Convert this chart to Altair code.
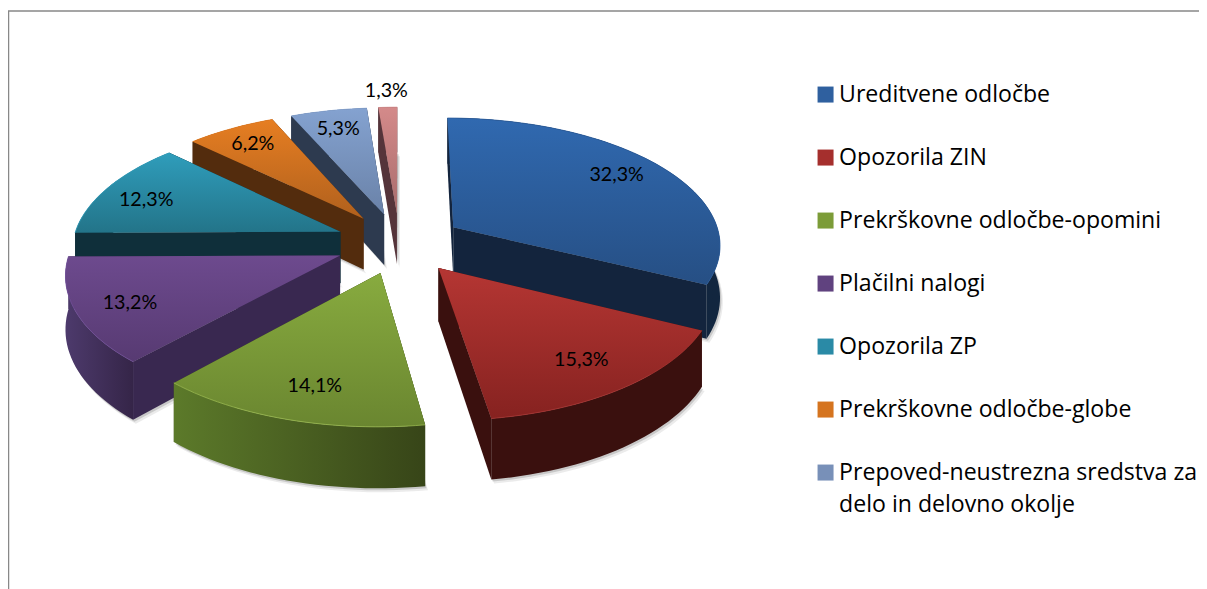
import math
import altair as alt
import pandas as pd

names = ["Ureditvene odločbe", "Opozorila ZIN", "Prekrškovne odločbe-opomini", "Plačilni nalogi",
         "Opozorila ZP", "Prekrškovne odločbe-globe",
         "Prepoved-neustrezna sredstva za delo in delovno okolje", "Ostalo"]
shares = [32.3, 15.3, 14.1, 13.2, 12.3, 6.2, 5.3, 1.3]
legend_colors = ["#2f609f", "#a52f2d", "#7c9c38", "#60427f", "#2a8aa6", "#d5741f", "#7890b8", "#c98080"]
top_hi = ["#3069b0", "#b53633", "#88ab3f", "#6d4a8e", "#2f9dbb", "#e67e22", "#84a2d0", "#d48a8a"]
top_lo = ["#264f84", "#862220", "#6a8630", "#573a72", "#237489", "#b0601d", "#6a82a8", "#a86c6c"]
wall_side = ["#13243d", "#3a100e", "#37441a", "#392850", "#0f2f3a", "#532c0d", "#2d3a4f", "#55343a"]
rim_lo = ["#13243d", "#3a100e", "#5c7a2a", "#4d3a6c", "#0f2f3a", "#532c0d", "#2d3a4f", "#55343a"]
rim_hi = ["#12263f", "#3a100e", "#374518", "#352548", "#0f2f3a", "#532c0d", "#2d3a4f", "#55343a"]
rim_edge = ["#2b5c9a", "#a83532", "#9aba50", "#72509a", "#38a5c2", "#e67e22", "#84a2d0", "#d48a8a"]
label_r = [0.80, 0.79, 0.79, 0.81, 0.81, 0.82, 0.81, 1.18]
label_da = [-2, 0, -1.5, -1.5, -2.5, 0, 0, 0]
paint_order = [7, 6, 5, 0, 4, 3, 2, 1]

W, H = 1191, 581
CX, CY, AX, BY, PERSP, EXPLODE, THICK = 391.5, 235, 268, 126.5, 0.125, 0.24, 52


def proj(xw, zw, h=0.0):
    s = 1 / (1 + PERSP * zw)
    return [CX + AX * xw * s, CY - BY * zw * s + h * s]


def point(mid, ang, r, h=0.0):
    return proj(EXPLODE * math.sin(math.radians(mid)) + r * math.sin(math.radians(ang)),
                EXPLODE * math.cos(math.radians(mid)) + r * math.cos(math.radians(ang)), h)


def depth(mid, ang, r):
    return EXPLODE * math.cos(math.radians(mid)) + r * math.cos(math.radians(ang))


def feature(ring, name):
    return {"type": "Feature", "properties": {"name": name},
            "geometry": {"type": "Polygon", "coordinates": [ring + [ring[0]]]}}


starts = []
acc = 0.0
for v in shares:
    starts.append(acc)
    acc += v * 3.6

PJ = dict(type="identity")
layers = []

# frame keeps the identity projection at one unit per pixel
frame_f = feature([[0, 0], [W, 0], [W, H], [0, H]], "frame")
layers.append(alt.Chart(alt.Data(values=[frame_f])).mark_geoshape(fill="#ffffff", stroke="transparent", strokeWidth=0).project(**PJ))
line_f = {"type": "Feature", "properties": {},
          "geometry": {"type": "LineString", "coordinates": [[0.4, H], [0.4, 3], [W, 3]]}}
layers.append(alt.Chart(alt.Data(values=[line_f])).mark_geoshape(filled=False, stroke="#888888", strokeWidth=1.7).project(**PJ))

# legend-bearing base layer
tops = []
for i, n in enumerate(names):
    a, b = starts[i], starts[i] + shares[i] * 3.6
    mid = (a + b) / 2
    steps = max(4, int(shares[i] * 2))
    ring = [point(mid, 0, 0)] + [point(mid, a + (b - a) * k / steps, 1) for k in range(steps + 1)]
    tops.append(feature(ring, n))
layers.append(
    alt.Chart(alt.Data(values=tops)).mark_geoshape(stroke="transparent", strokeWidth=0).encode(
        color=alt.Color("properties.name:N",
                        scale=alt.Scale(domain=names, range=legend_colors),
                        legend=alt.Legend(title=None, orient="none", legendX=806, legendY=75,
                                          values=names[:7], symbolType="square", symbolSize=256,
                                          symbolStrokeWidth=0, symbolOpacity=1, labelFont="Open Sans",
                                          labelFontSize=23.1, labelColor="#000000", labelLimit=400,
                                          labelOffset=2, rowPadding=39, padding=0,
                                          labelExpr="datum.label == 'Prepoved-neustrezna sredstva za delo in delovno okolje' ? ['Prepoved-neustrezna sredstva za', 'delo in delovno okolje'] : datum.label"))
    ).project(**PJ))


def grad(c0, c1, vertical=True):
    return alt.Gradient(gradient="linear",
                        stops=[alt.GradientStop(color=c0, offset=0), alt.GradientStop(color=c1, offset=1)],
                        x1=0, y1=0, x2=0 if vertical else 1, y2=1 if vertical else 0)


for i in paint_order:
    a, b = starts[i], starts[i] + shares[i] * 3.6
    mid = (a + b) / 2
    steps = max(4, int(shares[i] * 2))
    angs = [a + (b - a) * k / steps for k in range(steps + 1)]
    # soft drop shadow under the slice
    base = [point(mid, 0, 0, THICK)] + [point(mid, t, 1, THICK) for t in angs]
    for off, op in ((2, 0.28), (4, 0.14)):
        ring = [[px + off * 0.7, py + off] for px, py in base]
        layers.append(alt.Chart(alt.Data(values=[feature(ring, names[i])])).mark_geoshape(
            fill="#707070", fillOpacity=op, stroke="transparent", strokeWidth=0).project(**PJ))
    walls = []
    for edge in (a, b):
        ring = [point(mid, 0, 0), point(mid, edge, 1), point(mid, edge, 1, THICK), point(mid, 0, 0, THICK)]
        walls.append((depth(mid, edge, 0.5), ring, wall_side[i]))
    rim = [point(mid, t, 1) for t in angs] + [point(mid, t, 1, THICK) for t in reversed(angs)]
    walls.append((depth(mid, mid, 1.0), rim, None))
    for _, ring, col in sorted(walls, key=lambda w: -w[0]):
        fill = grad(rim_lo[i], rim_hi[i], False) if col is None else col
        layers.append(alt.Chart(alt.Data(values=[feature(ring, names[i])])).mark_geoshape(
            fill=fill, stroke="transparent", strokeWidth=0).project(**PJ))
    layers.append(alt.Chart(alt.Data(values=[tops[i]])).mark_geoshape(
        fill=grad(top_hi[i], top_lo[i]), stroke="transparent", strokeWidth=0).project(**PJ))
    edge_f = {"type": "Feature", "properties": {},
              "geometry": {"type": "LineString", "coordinates": [point(mid, t, 1) for t in angs]}}
    layers.append(alt.Chart(alt.Data(values=[edge_f])).mark_geoshape(
        filled=False, stroke=rim_edge[i], strokeWidth=0.8).project(**PJ))

# data labels
lab = []
for i, v in enumerate(shares):
    mid = starts[i] + v * 1.8
    px, py = point(mid, mid + label_da[i], label_r[i])
    lab.append({"label": f"{v:.1f}%".replace(".", ","), "px": px, "py": py})
layers.append(alt.Chart(pd.DataFrame(lab)).mark_text(font="Lato", fontSize=19.7, color="#000000", baseline="middle").encode(
    x=alt.X("px:Q", scale=None, axis=None), y=alt.Y("py:Q", scale=None, axis=None), text="label:N"))

chart = alt.layer(*layers).properties(
    width=W, height=H, padding=0, autosize=alt.AutoSizeParams(type="none"),
    background="#ffffff").configure_view(stroke=None).configure(style={"guide-label": {"lineHeight": 32}})
chart.save("out.html", embed_options={"renderer": "svg", "actions": False})
